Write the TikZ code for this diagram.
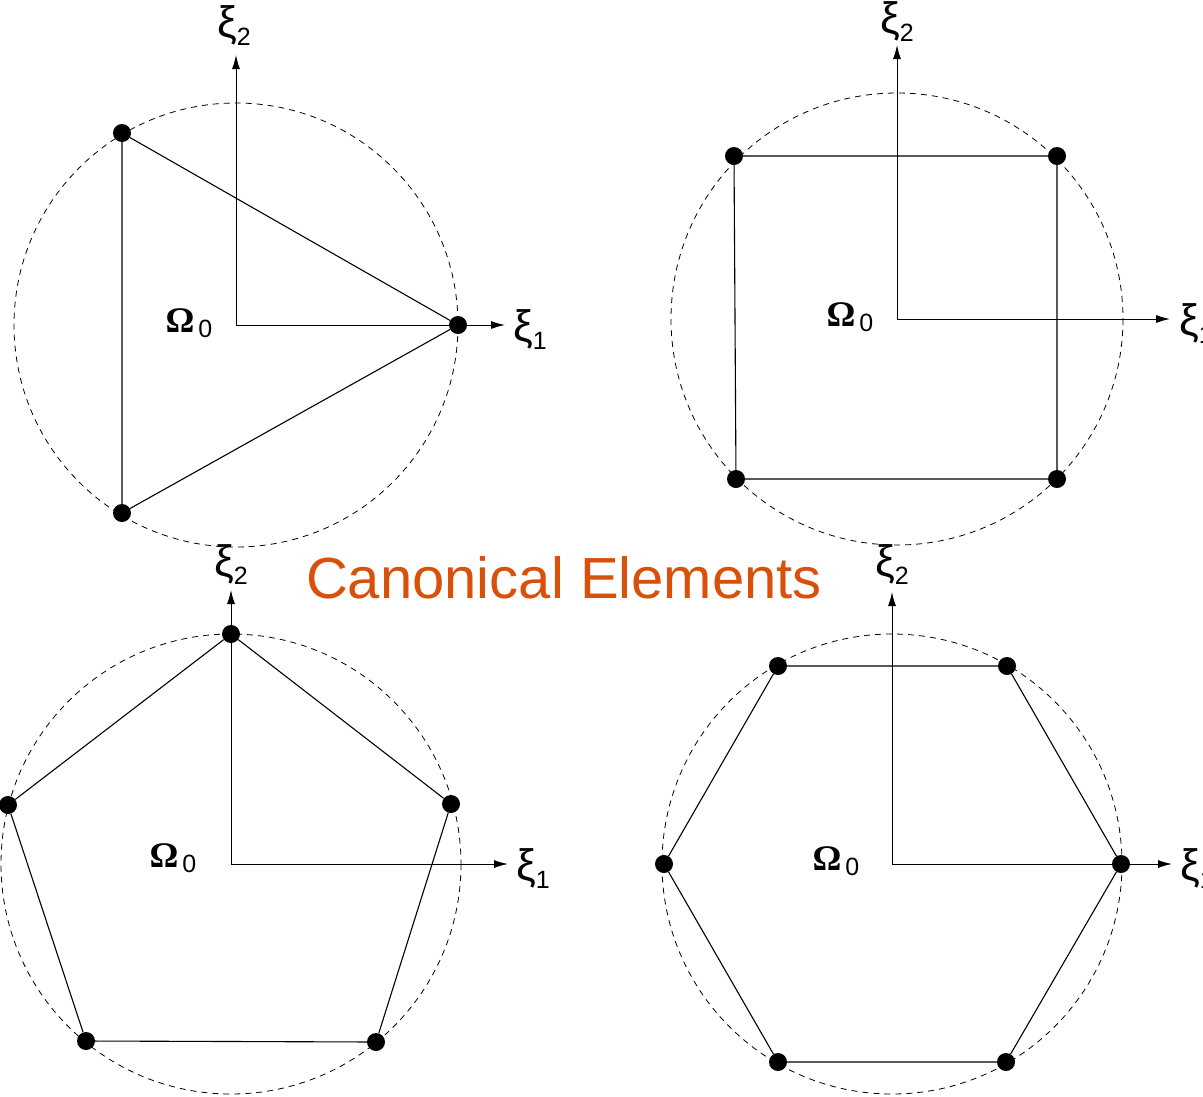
\documentclass[tikz,border=0pt]{standalone}
\usepackage{fontspec}
\setsansfont{Liberation Sans}
\newfontfamily\titlefont{Liberation Sans}
\newfontfamily\grkfont{Liberation Sans}
\newfontfamily\omfont{Liberation Serif}
\usetikzlibrary{arrows.meta}
\definecolor{titleorange}{HTML}{D9500B}
\tikzset{
  circ/.style={draw, dashed, dash pattern=on 6pt off 5pt, line width=0.8pt},
  edge/.style={draw, line width=1.1pt},
  axis/.style={draw, line width=1.0pt, -{Latex[length=14pt,width=8pt]}},
  vtx/.style={circle, fill=black, inner sep=0pt, minimum size=18pt},
  lab/.style={inner sep=0pt},
  omega/.style={inner sep=0pt}
}
\newcommand{\xilab}[1]{{\grkfont\fontsize{44}{46}\selectfont ξ}\raisebox{-8pt}{\grkfont\fontsize{25}{27}\selectfont #1}}
\newcommand{\omlab}{{\omfont\bfseries\fontsize{36}{38}\selectfont Ω}\hspace{4pt}\raisebox{-5pt}{\grkfont\fontsize{25}{27}\selectfont 0}}
\begin{document}
\begin{tikzpicture}[x=1pt,y=-1pt]
\useasboundingbox (0,0) rectangle (1203,1096);
% ---------- Top-left: triangle ----------
\coordinate (o1) at (236,325);
\draw[circ] (o1) circle (222);
\node[vtx] (t1) at (458,325) {};
\node[vtx] (t2) at (122,133) {};
\node[vtx] (t3) at (122,513) {};
\draw[edge] (t1) -- (t2) -- (t3) -- (t1);
\coordinate (x1a) at (505,325);
\coordinate (y1a) at (236,55);
\draw[axis] (o1) -- (x1a);
\draw[axis] (o1) -- (y1a);
\node[lab] (x1l) at (530,330) {\xilab{1}};
\node[lab] (y1l) at (234,26) {\xilab{2}};
\node[omega] (om1) at (189,323) {\omlab};
% ---------- Top-right: square ----------
\coordinate (o2) at (897,319);
\draw[circ] (o2) circle (226);
\node[vtx] (s1) at (734,156) {};
\node[vtx] (s2) at (1057,156) {};
\node[vtx] (s3) at (1057,479) {};
\node[vtx] (s4) at (736,479) {};
\draw[edge] (s1) -- (s2) -- (s3) -- (s4) -- (s1);
\coordinate (x2a) at (1170,319);
\coordinate (y2a) at (897,45);
\draw[axis] (o2) -- (x2a);
\draw[axis] (o2) -- (y2a);
\node[lab] (x2l) at (1196,324) {\xilab{1}};
\node[lab] (y2l) at (897,22) {\xilab{2}};
\node[omega] (om2) at (850,317) {\omlab};
% ---------- Bottom-left: pentagon ----------
\coordinate (o3) at (231,864);
\draw[circ] (o3) circle (230);
\node[vtx] (p1) at (231,634) {};
\node[vtx] (p2) at (451,804) {};
\node[vtx] (p3) at (376,1042) {};
\node[vtx] (p4) at (86,1041) {};
\node[vtx] (p5) at (8,805) {};
\draw[edge] (p1) -- (p2) -- (p3) -- (p4) -- (p5) -- (p1);
\coordinate (x3a) at (508,864);
\coordinate (y3a) at (231,590);
\draw[axis] (o3) -- (x3a);
\draw[axis] (o3) -- (y3a);
\node[lab] (x3l) at (533,869) {\xilab{1}};
\node[lab] (y3l) at (231,565) {\xilab{2}};
\node[omega] (om3) at (173,858) {\omlab};
% ---------- Bottom-right: hexagon ----------
\coordinate (o4) at (892,864);
\draw[circ] (o4) circle (230);
\node[vtx] (h1) at (1121,864) {};
\node[vtx] (h2) at (1007,666) {};
\node[vtx] (h3) at (778,666) {};
\node[vtx] (h4) at (664,864) {};
\node[vtx] (h5) at (778,1062) {};
\node[vtx] (h6) at (1006,1062) {};
\draw[edge] (h1) -- (h2) -- (h3) -- (h4) -- (h5) -- (h6) -- (h1);
\coordinate (x4a) at (1172,864);
\coordinate (y4a) at (892,592);
\draw[axis] (o4) -- (x4a);
\draw[axis] (o4) -- (y4a);
\node[lab] (x4l) at (1197,869) {\xilab{1}};
\node[lab] (y4l) at (892,565) {\xilab{2}};
\node[omega] (om4) at (836,861) {\omlab};
% ---------- Title ----------
\node[inner sep=0pt, text=titleorange, font=\titlefont\fontsize{58}{60}\selectfont] (title) at (564,578) {Canonical Elements};
\end{tikzpicture}
\end{document}
